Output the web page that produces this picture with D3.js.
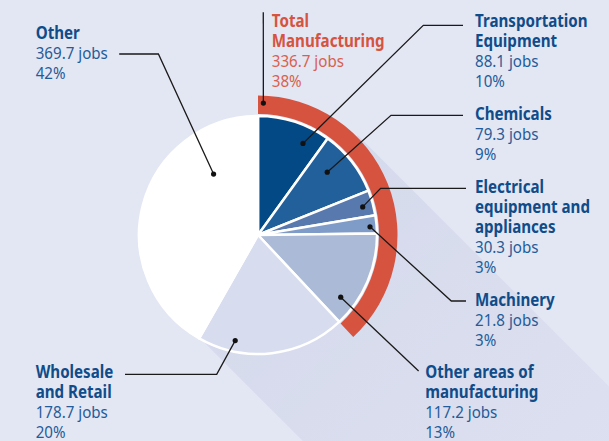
<!DOCTYPE html>
<html>
<head>
<meta charset="utf-8">
<script src="https://cdn.jsdelivr.net/npm/d3@7"></script>
<style>
  body { margin: 0; background: #e3e6f3; }
  svg { display: block; }
</style>
</head>
<body>
<script>
let w = 609;
let h = 441;

// data, clockwise from 12 o'clock
let sectors = ['Transportation Equipment', 'Chemicals', 'Electrical equipment and appliances',
  'Machinery', 'Other areas of manufacturing', 'Wholesale and Retail', 'Other'];
let jobs = [88.1, 79.3, 30.3, 21.8, 117.2, 178.7, 369.7];
let shares = ['10%', '9%', '3%', '3%', '13%', '20%', '42%'];
let manufacturing = ['Transportation Equipment', 'Chemicals', 'Electrical equipment and appliances',
  'Machinery', 'Other areas of manufacturing'];
let totalLabel = 'Total Manufacturing';
let totalJobs = 336.7;
let totalShare = '38%';

let colors = ['#034985', '#22609c', '#5779ae', '#7f9bc8', '#abbad7', '#d7dcee', '#ffffff'];

// label layout: text lines, anchor, leader elbows, dot spot inside slice
let labels = [
  { key: 'Transportation Equipment', lines: ['Transportation', 'Equipment'], x: 475, y: 26.7,
    leader: [[463, 25.3], [423.3, 25.3]], f: 0.73, r: 102 },
  { key: 'Chemicals', lines: ['Chemicals'], x: 475, y: 120,
    leader: [[463, 115.3], [391, 115.3]], f: 0.37, r: 93.5 },
  { key: 'Electrical equipment and appliances', lines: ['Electrical', 'equipment and', 'appliances'], x: 475, y: 193,
    leader: [[466, 188.3], [380.6, 188.3]], f: 0.56, r: 108.4 },
  { key: 'Machinery', lines: ['Machinery'], x: 475, y: 306.4,
    leader: [[466, 301], [451.3, 301]], f: 0.61, r: 112.3 },
  { key: 'Other areas of manufacturing', lines: ['Other areas of', 'manufacturing'], x: 425.2, y: 378.4,
    leader: [[418.6, 371]], f: 0.79, r: 103.5 },
  { key: 'Wholesale and Retail', lines: ['Wholesale', 'and Retail'], x: 35.7, y: 378.4,
    leader: [[125, 374.3], [216.7, 374.3]], f: 0.76, r: 108 },
  { key: 'Other', lines: ['Other'], x: 35.7, y: 39,
    leader: [[119.2, 54], [158.4, 54]], f: 0.76, r: 75.4 }
];
let totalLayout = { lines: ['Total', 'Manufacturing'], x: 271.8, y: 26.7, leader: [[263.3, 12.3]], f: 0.017, r: 132 };

let cx = 258;
let cy = 235;
let rPie = 119;
let rBandIn = 121;
let rBandOut = 139.5;

let svg = d3.select('body')
  .append('svg')
  .attr('width', w)
  .attr('height', h);

svg.append('rect')
  .attr('width', w)
  .attr('height', h)
  .attr('fill', '#e3e6f3');

// long shadow towards lower right
let grad = svg.append('defs').append('linearGradient')
  .attr('id', 'shade')
  .attr('gradientUnits', 'userSpaceOnUse')
  .attr('x1', cx).attr('y1', cy)
  .attr('x2', cx + 300).attr('y2', cy + 300);
grad.append('stop').attr('offset', 0).attr('stop-color', '#d5daec');
grad.append('stop').attr('offset', 1).attr('stop-color', '#dde0f0');

let s = Math.SQRT1_2;
let p1 = [cx + 141 * s, cy - 141 * s];
let p2 = [cx - 114 * s, cy + 114 * s];
svg.append('path')
  .attr('d', d3.line()([p1, [p1[0] + 600, p1[1] + 600], [p2[0] + 600, p2[1] + 600], p2]))
  .attr('fill', 'url(#shade)');

let g = svg.append('g')
  .attr('transform', 'translate(' + cx + ',' + cy + ')');

let pie = d3.pie()
  .sort(null)
  .value((d, i) => jobs[i]);

let arcs = pie(sectors);

let color = d3.scaleOrdinal()
  .domain(sectors)
  .range(colors);

let arc = d3.arc()
  .innerRadius(0)
  .outerRadius(rPie);

// red band for total manufacturing
let manuArcs = arcs.filter((a) => manufacturing.includes(a.data));
let bandArc = d3.arc()
  .innerRadius(rBandIn)
  .outerRadius(rBandOut);
let band = {
  startAngle: d3.min(manuArcs, (a) => a.startAngle),
  endAngle: d3.max(manuArcs, (a) => a.endAngle)
};
// check against the stated total
band.endAngle = band.startAngle + (band.endAngle - band.startAngle) * totalJobs / d3.sum(manuArcs, (a) => a.value);

g.append('path')
  .attr('d', bandArc(band))
  .attr('fill', '#d6533f');

g.selectAll('path.slice')
  .data(arcs)
  .enter()
  .append('path')
  .attr('class', 'slice')
  .attr('d', arc)
  .attr('fill', (d) => color(d.data))
  .attr('stroke', '#ffffff')
  .attr('stroke-width', 2.5)
  .attr('stroke-linejoin', 'round');

function dotPos(startAngle, endAngle, f, r) {
  let a = startAngle + (endAngle - startAngle) * f;
  return [cx + r * Math.sin(a), cy - r * Math.cos(a)];
}

let lineGen = d3.line();

function drawLabel(lay, dot, title, value, share, titleColor, textColor) {
  svg.append('path')
    .attr('d', lineGen(lay.leader.concat([dot])))
    .attr('fill', 'none')
    .attr('stroke', '#1a1a1a')
    .attr('stroke-width', 1.3);
  svg.append('circle')
    .attr('cx', dot[0])
    .attr('cy', dot[1])
    .attr('r', 2.6)
    .attr('fill', '#111111');

  let t = svg.append('g')
    .attr('transform', 'translate(' + lay.x + ',' + lay.y + ') scale(0.89,1)')
    .attr('font-family', '"Noto Sans", sans-serif')
    .attr('font-size', '17px');
  let rows = lay.lines.map((l) => ({ text: l, bold: true }))
    .concat([{ text: value + ' jobs', bold: false }, { text: share, bold: false }]);
  t.selectAll('text')
    .data(rows)
    .enter()
    .append('text')
    .attr('x', 0)
    .attr('y', (d, i) => i * 20)
    .attr('font-weight', (d) => d.bold ? 700 : 400)
    .attr('fill', (d) => d.bold ? titleColor : textColor)
    .text((d) => d.text);
}

labels.forEach((lay) => {
  let i = sectors.indexOf(lay.key);
  let a = arcs[i];
  let dot = dotPos(a.startAngle, a.endAngle, lay.f, lay.r);
  drawLabel(lay, dot, sectors[i], jobs[i], shares[i], '#0f4c89', '#235c98');
});

let tdot = dotPos(band.startAngle, band.endAngle, totalLayout.f, totalLayout.r);
drawLabel(totalLayout, tdot, totalLabel, totalJobs, totalShare, '#d6533f', '#d9604d');
</script>
</body>
</html>
